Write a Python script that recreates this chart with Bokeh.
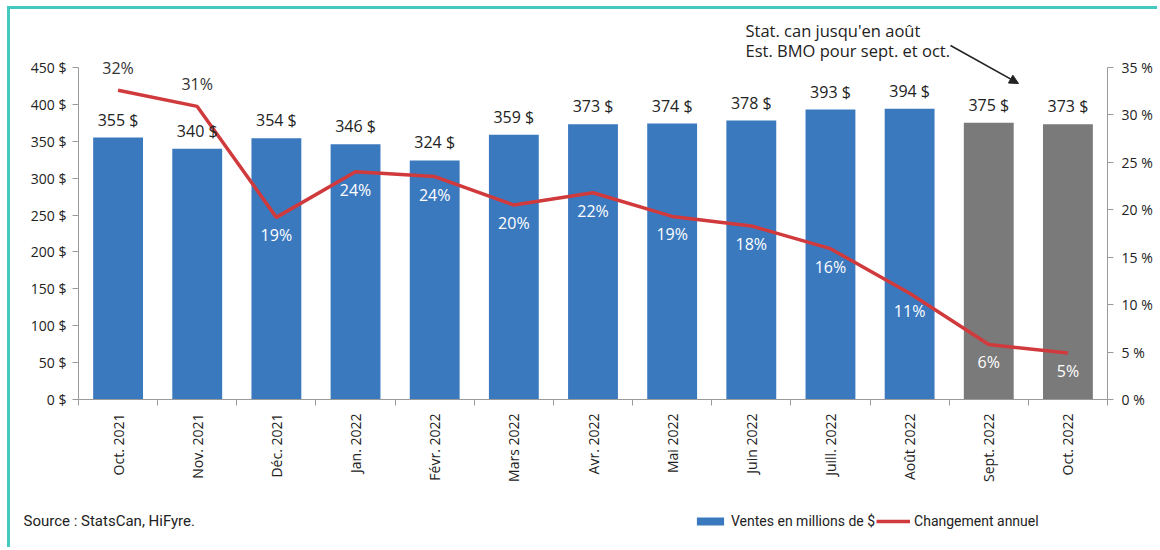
import math
from bokeh.plotting import figure
from bokeh.layouts import column
from bokeh.models import (Range1d, LinearAxis, FixedTicker, CustomJSTickFormatter, Label,
                          Arrow, NormalHead, Legend, LegendItem, ColumnDataSource)
from bokeh.core.properties import value
from bokeh.embed import file_html
from bokeh.resources import INLINE

months = ["Oct. 2021", "Nov. 2021", "Déc. 2021", "Jan. 2022", "Févr. 2022", "Mars 2022",
          "Avr. 2022", "Mai 2022", "Juin 2022", "Juill. 2022", "Août 2022", "Sept. 2022", "Oct. 2022"]
sales = [355, 340, 354, 346, 324, 359, 373, 374, 378, 393, 394, 375, 373]
estimated = [False] * 11 + [True, True]
change = [32.6, 30.9, 19.2, 24.0, 23.5, 20.5, 21.8, 19.3, 18.3, 15.9, 11.2, 5.8, 4.9]
change_labels = ["32%", "31%", "19%", "24%", "24%", "20%", "22%", "19%", "18%", "16%", "11%", "6%", "5%"]
y_ticks = [0, 50, 100, 150, 200, 250, 300, 350, 400, 450]
pct_ticks = [0, 5, 10, 15, 20, 25, 30, 35]

BLUE = "#3b79bf"
GRAY = "#7a7a7a"
RED = "#d13a3c"
TEAL = "#45c8c0"
AXIS = "#9a9a9a"
INK = "#222222"
FONT = "Open Sans"

# page offset of the content (room for the teal frame lines on the left and top)
OX, OY = 10, 9
W = 1160 - OX
SPLIT = 500                 # page y where the bottom strip (source + legend) starts
H_MAIN = SPLIT - OY
H_STRIP = 550 - SPLIT
# frame edges in main-canvas px
FL, FR, FT, FB = 78 - OX, 1107 - OX, 0, 399 - OY
Y450 = 67 - OY  # canvas y of the 450 $ tick
N = len(months)
YMAX = 450
PMAX = 35
y_end = (FB - FT) / (FB - Y450) * YMAX
p_end = (FB - FT) / (FB - Y450) * PMAX

def px2x(px):  # page px -> x data
    return (px - OX - FL) / (FR - FL) * N

def py2y(py):  # page px -> y data
    return (FB - (py - OY)) / (FB - Y450) * YMAX

p = figure(width=W, height=H_MAIN, output_backend="svg", toolbar_location=None, title=None,
           x_range=Range1d(0, N), y_range=Range1d(0, y_end),
           min_border_left=FL, min_border_right=W - FR, min_border_top=FT,
           min_border_bottom=H_MAIN - FB, frame_align=False,
           background_fill_color="white", border_fill_color="white")
p.extra_y_ranges = {"pct": Range1d(0, p_end)}
p.outline_line_color = None
p.xgrid.visible = False
p.ygrid.visible = False

xs = [i + 0.5 for i in range(N)]
colors = [GRAY if e else BLUE for e in estimated]
src = ColumnDataSource(dict(x=xs, sales=sales, color=colors, change=change,
                            sales_lbl=[f"{v} $" for v in sales]))

bars = p.vbar(x="x", top="sales", width=0.63, fill_color="color", line_color=None, source=src)
line = p.line(x="x", y="change", y_range_name="pct", line_color=RED, line_width=3.5, source=src)

# bar value labels
p.text(x="x", y="sales", text="sales_lbl", source=src, text_align="center", text_baseline="bottom",
       y_offset=-7, text_font=value(FONT), text_font_size="16px", text_color=INK)

# percent labels: first two above the line in dark, the rest in white below it
top_idx = [0, 1]
low_idx = list(range(2, N))
src_top = ColumnDataSource(dict(x=[xs[i] for i in top_idx], y=[change[i] for i in top_idx],
                                t=[change_labels[i] for i in top_idx]))
src_low = ColumnDataSource(dict(x=[xs[i] for i in low_idx], y=[change[i] for i in low_idx],
                                t=[change_labels[i] for i in low_idx]))
p.text(x="x", y="y", text="t", source=src_top, y_range_name="pct", text_align="center",
       text_baseline="middle", y_offset=-22, text_font=value(FONT), text_font_size="16px",
       text_color="#333333")
p.text(x="x", y="y", text="t", source=src_low, y_range_name="pct", text_align="center",
       text_baseline="middle", y_offset=18, text_font=value(FONT), text_font_size="16px",
       text_color="white")

# x axis: labels at centres, ticks at boundaries
xa = p.xaxis[0]
xa.ticker = FixedTicker(ticks=xs, minor_ticks=list(range(N + 1)))
xa.formatter = CustomJSTickFormatter(args=dict(labels=months),
                                     code="return labels[Math.floor(tick)];")
xa.major_label_orientation = math.pi / 2
xa.major_tick_line_color = None
xa.minor_tick_out = 6
xa.minor_tick_in = 0
xa.minor_tick_line_color = AXIS
xa.axis_line_color = AXIS
xa.major_label_text_font = FONT
xa.major_label_text_font_size = "14px"
xa.major_label_text_color = INK
xa.major_label_standoff = 8

ya = p.yaxis[0]
ya.ticker = FixedTicker(ticks=y_ticks)
ya.bounds = (0, YMAX)
ya.formatter = CustomJSTickFormatter(code="return tick + ' $';")
ya.axis_line_color = AXIS
ya.major_tick_line_color = AXIS
ya.major_tick_out = 6
ya.major_tick_in = 0
ya.minor_tick_line_color = None
ya.major_label_text_font = FONT
ya.major_label_text_font_size = "14px"
ya.major_label_text_color = INK
ya.major_label_standoff = 6

ra = LinearAxis(y_range_name="pct", ticker=FixedTicker(ticks=pct_ticks), bounds=(0, PMAX),
                formatter=CustomJSTickFormatter(code="return tick + ' %';"))
ra.axis_line_color = AXIS
ra.major_tick_line_color = AXIS
ra.major_tick_out = 6
ra.major_tick_in = 0
ra.minor_tick_line_color = None
ra.major_label_text_font = FONT
ra.major_label_text_font_size = "14px"
ra.major_label_text_color = INK
ra.major_label_standoff = 8
p.add_layout(ra, "right")

# annotation
p.add_layout(Label(x=px2x(745), y=py2y(30), text="Stat. can jusqu'en août",
                   text_font=FONT, text_font_size="16.5px", text_color=INK,
                   text_baseline="middle"))
p.add_layout(Label(x=px2x(745), y=py2y(50), text="Est. BMO pour sept. et oct.",
                   text_font=FONT, text_font_size="16.5px", text_color=INK,
                   text_baseline="middle"))
p.add_layout(Arrow(x_start=px2x(950), y_start=py2y(45), x_end=px2x(1018), y_end=py2y(83),
                   line_color=INK, line_width=1.5,
                   end=NormalHead(size=9, fill_color=INK, line_color=INK)))

# bottom strip: source note and legend (pixel-unit ranges, y pointing down)
s = figure(width=W, height=H_STRIP, output_backend="svg", toolbar_location=None, title=None,
           x_range=Range1d(0, W), y_range=Range1d(H_STRIP, 0),
           x_axis_type=None, y_axis_type=None, frame_align=False,
           min_border_left=0, min_border_right=0, min_border_top=0, min_border_bottom=0,
           background_fill_color="white", border_fill_color="white")
s.outline_line_color = None
s.xgrid.visible = False
s.ygrid.visible = False
s.add_layout(Label(x=23 - OX, y=520 - SPLIT, text="Source : StatsCan, HiFyre.",
                   text_font="Roboto", text_font_size="15px", text_color=INK,
                   text_baseline="middle"))
# legend keys: same styles as the chart's series (no visible marks of their own)
nan = float("nan")
key_bar = s.vbar(x=[nan], top=[nan], width=1, fill_color=BLUE, line_color=None)
key_line = s.line(x=[nan], y=[nan], line_color=RED, line_width=3.5)
legend = Legend(items=[LegendItem(label="Ventes en millions de $", renderers=[key_bar]),
                       LegendItem(label="Changement annuel", renderers=[key_line])],
                orientation="horizontal", location=(693 - OX, 550 - 529),
                padding=0, margin=0, spacing=1, label_standoff=4,
                glyph_width=34, glyph_height=10, label_height=14,
                label_text_font="Roboto", label_text_font_size="14px",
                label_text_color=INK,
                border_line_color=None, background_fill_alpha=0)
s.add_layout(legend, "center")

layout = column(p, s, spacing=0, margin=(OY, 0, 0, OX),
                styles={"box-shadow": f"-3px -3px 0px 0px {TEAL}"})

open("out.html", "w").write(file_html(layout, INLINE))
